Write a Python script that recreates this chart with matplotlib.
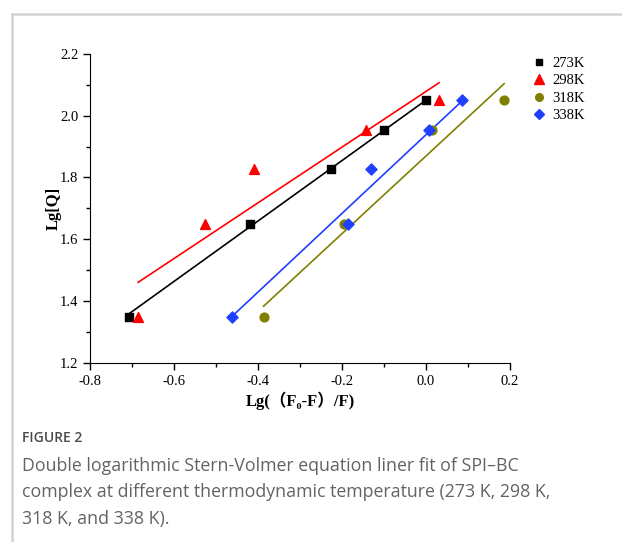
import matplotlib
matplotlib.use('Agg')
from matplotlib import pyplot as plt
from matplotlib.lines import Line2D
from matplotlib.ticker import MultipleLocator, FormatStrFormatter

# data
lgq = [1.35, 1.65, 1.826, 1.952, 2.05]

x_273 = [-0.707, -0.42, -0.226, -0.10, 0.0]
x_298 = [-0.686, -0.527, -0.41, -0.144, 0.031]
x_318 = [-0.387, -0.196, 0.015, 0.186]
y_318 = [1.35, 1.65, 1.952, 2.05]
x_338 = [-0.463, -0.187, -0.13, 0.008, 0.086]

# fitted lines (end points)
fit_273_x = [-0.707, 0.0]
fit_273_y = [1.36, 2.05]
fit_298_x = [-0.686, 0.031]
fit_298_y = [1.461, 2.106]
fit_318_x = [-0.387, 0.186]
fit_318_y = [1.384, 2.103]
fit_338_x = [-0.463, 0.088]
fit_338_y = [1.35, 2.05]

labels = ['273K', '298K', '318K', '338K']
colors = ['black', 'red', '#808000', '#1f3fff']

plt.rcParams['font.family'] = ['Liberation Serif', 'Noto Sans CJK SC']

fig = plt.figure(figsize=(6.22, 5.42), dpi=100)
ax = fig.add_axes([0.145, 0.330, 0.675, 0.571])

ax.plot(fit_273_x, fit_273_y, color=colors[0], lw=1.2)
ax.plot(fit_298_x, fit_298_y, color=colors[1], lw=1.2)
ax.plot(fit_318_x, fit_318_y, color=colors[2], lw=1.2)
ax.plot(fit_338_x, fit_338_y, color=colors[3], lw=1.2)

ax.scatter(x_273, lgq, marker='s', s=36, color=colors[0], zorder=3)
ax.scatter(x_298, lgq, marker='^', s=50, color=colors[1], zorder=3)
ax.scatter(x_318, y_318, marker='o', s=40, color=colors[2], zorder=3)
ax.scatter(x_338, lgq, marker='D', s=32, color=colors[3], zorder=3)

ax.set_xlim(-0.8, 0.2)
ax.set_ylim(1.2, 2.2)
ax.xaxis.set_major_locator(MultipleLocator(0.2))
ax.xaxis.set_minor_locator(MultipleLocator(0.1))
ax.yaxis.set_major_locator(MultipleLocator(0.2))
ax.yaxis.set_minor_locator(MultipleLocator(0.1))
ax.xaxis.set_major_formatter(FormatStrFormatter('%.1f'))
ax.yaxis.set_major_formatter(FormatStrFormatter('%.1f'))
ax.tick_params(which='major', direction='out', length=5, width=1, labelsize=10.5)
ax.tick_params(which='minor', direction='out', length=3, width=1)
ax.spines['top'].set_visible(False)
ax.spines['right'].set_visible(False)

ax.set_ylabel('Lg[Q]', fontsize=12, fontweight='bold', labelpad=-1)
ax.set_xlabel('Lg(（F\u2080-F）/F)', fontsize=12, fontweight='bold', labelpad=3)

handles = [
    Line2D([], [], marker='s', color=colors[0], ls='none', markersize=5),
    Line2D([], [], marker='^', color=colors[1], ls='none', markersize=7),
    Line2D([], [], marker='o', color=colors[2], ls='none', markersize=5.5),
    Line2D([], [], marker='D', color=colors[3], ls='none', markersize=5),
]
fig.legend(handles, labels, loc='upper left', bbox_to_anchor=(0.832, 0.92),
           frameon=False, fontsize=10.5, handletextpad=0.3, labelspacing=0.3,
           handlelength=1.2)

# card border
fig.add_artist(Line2D([0.02, 0.02], [0, 0.974], color='#d4d4d4', lw=1.8))
fig.add_artist(Line2D([0.02, 1.0], [0.974, 0.974], color='#d4d4d4', lw=1.8))

# caption
fig.text(0.036, 0.192, 'FIGURE 2', fontsize=10, color='#4a4a4a',
         family='Open Sans', va='center', fontweight='semibold')
caption = ('Double logarithmic Stern-Volmer equation liner fit of SPI\u2013BC\n'
           'complex at different thermodynamic temperature (273 K, 298 K,\n'
           '318 K, and 338 K).')
fig.text(0.036, 0.157, caption, fontsize=12.8, color='#636363',
         family='Open Sans', va='top', linespacing=1.6)

plt.savefig('out.png', dpi=100)
